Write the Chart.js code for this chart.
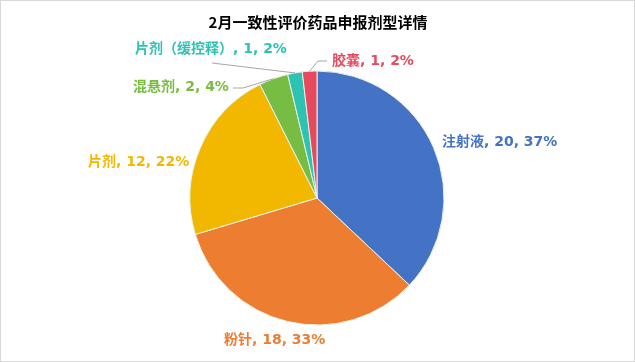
<!DOCTYPE html>
<html>
<head>
<meta charset="utf-8">
<script src="https://cdn.jsdelivr.net/npm/chart.js@4.4.1/dist/chart.umd.min.js"></script>
<style>
  html, body { margin:0; padding:0; background:#fff; }
  #wrap { width:635px; height:362px; position:relative; }
</style>
</head>
<body>
<div id="wrap"><canvas id="c" width="635" height="362"></canvas></div>
<script>
/* 2月一致性评价药品申报剂型详情 — pie */
const title = '2月一致性评价药品申报剂型详情';
const categories = ['注射液', '粉针', '片剂', '混悬剂', '片剂（缓控释）', '胶囊'];
const counts = [20, 18, 12, 2, 1, 1];
const percents = ['37%', '33%', '22%', '4%', '2%', '2%'];
const colors = ['#4472C4', '#ED7D31', '#F2B800', '#77BC43', '#2EC2B2', '#E64A5E'];

// label placement (left edge x, middle y) and leader line start points
const labelLayout = [
  { x:442, y:142 },
  { x:224, y:340 },
  { x:88,  y:162 },
  { x:133, y:87,  lead:[[233,88],[243,88]] },
  { x:135, y:49,  lead:[[212,63]] },
  { x:332, y:61,  lead:[[327,61],[318,61]] }
];

const FONT = '"Noto Sans CJK SC", "Microsoft YaHei", sans-serif';
const LABEL_FONT = 'bold 14px "DejaVu Sans", "Noto Sans CJK SC", sans-serif';

const labelPlugin = {
  id:'pieLabels',
  beforeDraw(chart) {
    const ctx = chart.ctx;
    ctx.save();
    ctx.fillStyle = '#fff';
    ctx.fillRect(0, 0, chart.width, chart.height);
    ctx.strokeStyle = '#d9d9d9';
    ctx.lineWidth = 1;
    ctx.strokeRect(0.5, 0.5, chart.width - 1, chart.height - 1);
    ctx.restore();
  },
  afterDatasetsDraw(chart) {
    const ctx = chart.ctx;
    const arcs = chart.getDatasetMeta(0).data;
    ctx.save();
    // title
    ctx.font = 'bold 15px ' + FONT;
    ctx.fillStyle = '#000';
    ctx.textAlign = 'center';
    ctx.textBaseline = 'middle';
    ctx.fillText(title, 318, 22);

    ctx.font = LABEL_FONT;
    ctx.textAlign = 'left';
    arcs.forEach((arc, i) => {
      const L = labelLayout[i];
      if (L.lead) {
        const p = arc.getProps(['x','y','startAngle','endAngle','outerRadius'], true);
        const mid = (p.startAngle + p.endAngle) / 2;
        const ex = p.x + Math.cos(mid) * p.outerRadius;
        const ey = p.y + Math.sin(mid) * p.outerRadius;
        ctx.strokeStyle = '#a6a6a6';
        ctx.lineWidth = 1;
        ctx.beginPath();
        ctx.moveTo(L.lead[0][0], L.lead[0][1]);
        for (let k = 1; k < L.lead.length; k++) ctx.lineTo(L.lead[k][0], L.lead[k][1]);
        ctx.lineTo(ex, ey);
        ctx.stroke();
      }
      ctx.fillStyle = colors[i];
      ctx.fillText(categories[i] + ', ' + counts[i] + ', ' + percents[i], L.x, L.y);
    });
    ctx.restore();
  }
};

new Chart(document.getElementById('c'), {
  type:'pie',
  data:{
    labels: categories,
    datasets:[{
      data: counts,
      backgroundColor: colors,
      borderColor:'#eaf3e6',
      borderWidth:1,
      radius:127
    }]
  },
  options:{
    responsive:false,
    animation:false,
    events:[],
    layout:{ padding:{ top:72, bottom:38, left:150, right:151 } },
    plugins:{ legend:{ display:false }, tooltip:{ enabled:false }, title:{ display:false } }
  },
  plugins:[labelPlugin]
});
</script>
</body>
</html>
